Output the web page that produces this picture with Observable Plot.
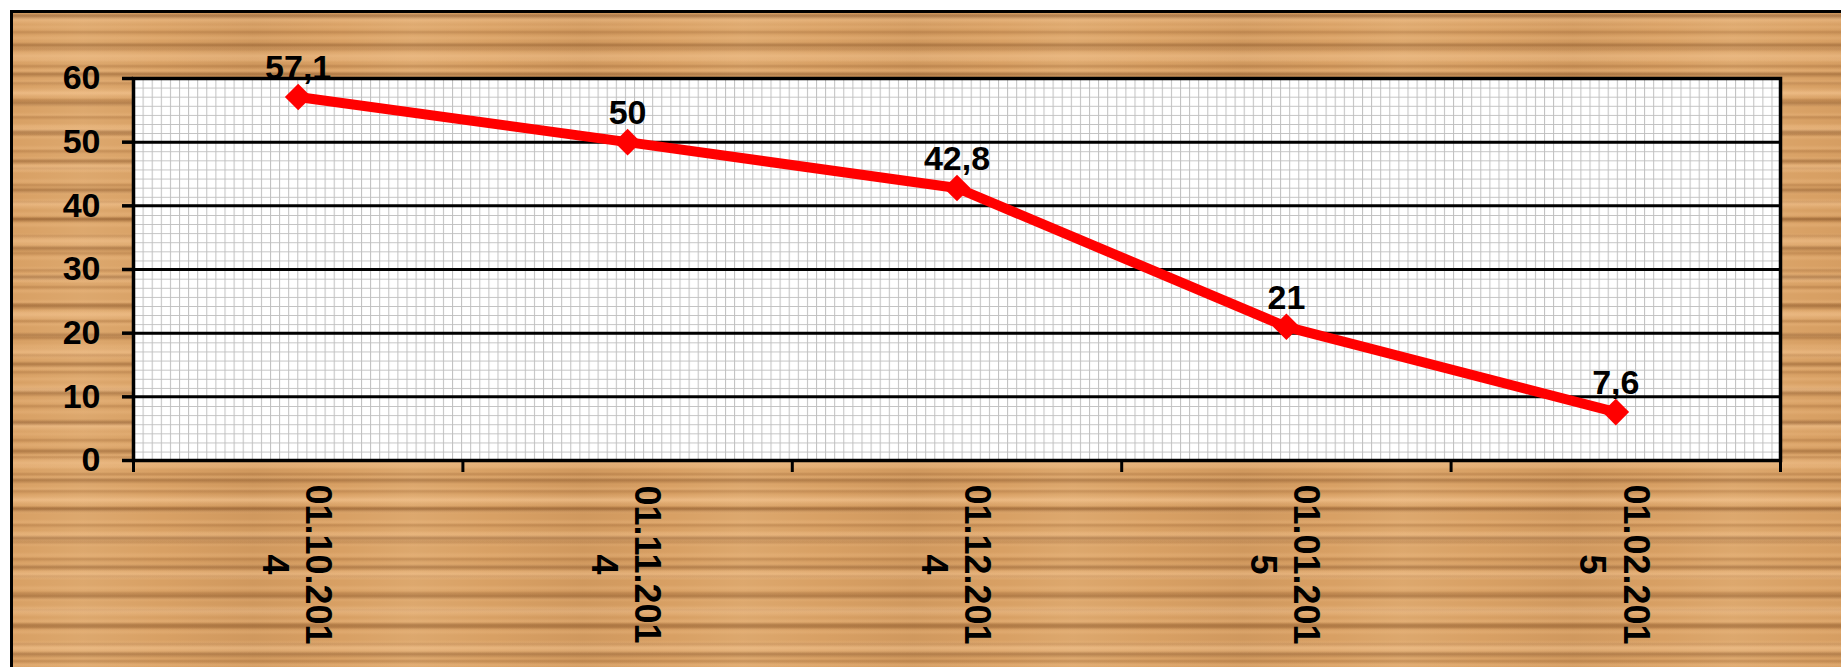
<!DOCTYPE html>
<html>
<head>
<meta charset="utf-8">
<script src="https://cdn.jsdelivr.net/npm/d3@7"></script>
<script src="https://cdn.jsdelivr.net/npm/@observablehq/plot@0.6"></script>
<style>
  html, body { margin: 0; padding: 0; background: #ffffff; overflow: hidden; }
  #wrap { position: relative; width: 1841px; height: 667px; }
  #wood {
    position: absolute; left: 10px; top: 10px; width: 1900px; height: 700px;
    border-left: 3px solid #000; border-top: 3px solid #000;
    background-color: #d8a064;
    background-image:
      repeating-linear-gradient(180deg, rgba(110,60,20,0) 0px, rgba(110,60,20,0.38) 3px, rgba(110,60,20,0) 7px, rgba(110,60,20,0) 29px),
      repeating-linear-gradient(180deg, rgba(250,205,155,0) 0px, rgba(250,205,155,0.45) 6px, rgba(250,205,155,0) 12px, rgba(250,205,155,0) 37px),
      repeating-linear-gradient(180deg, rgba(130,75,30,0) 0px, rgba(130,75,30,0.25) 2px, rgba(130,75,30,0) 5px, rgba(130,75,30,0) 17px),
      repeating-linear-gradient(180deg, rgba(240,190,135,0) 0px, rgba(240,190,135,0.30) 3px, rgba(240,190,135,0) 6px, rgba(240,190,135,0) 11px),
      repeating-linear-gradient(90deg, rgba(255,255,255,0) 0px, rgba(255,225,180,0.12) 70px, rgba(255,255,255,0) 150px, rgba(110,60,20,0.08) 240px, rgba(255,255,255,0) 330px);
  }
  #chart { position: absolute; left: 0; top: 0; }
</style>
</head>
<body>
<svg width="0" height="0" style="position:absolute">
  <defs>
    <pattern id="minorgrid" patternUnits="userSpaceOnUse" x="133" y="78" width="9.1" height="9.1">
      <rect width="9.1" height="9.1" fill="#ffffff"></rect>
      <path d="M0 0.5 H9.1 M0.5 0 V9.1" stroke="#c0c0c0" stroke-width="1" fill="none"></path>
    </pattern>
  </defs>
</svg>
<div id="wrap">
  <div id="wood"></div>
  <div id="chart"></div>
</div>
<script>
// Data
const dates = ["01.10.2014", "01.11.2014", "01.12.2014", "01.01.2015", "01.02.2015"];
const values = [57.1, 50, 42.8, 21, 7.6];
const yTicks = [0, 10, 20, 30, 40, 50, 60];

// Excel-style wrapped date labels ("01.10.201" / "4")
const wrapLabel = (s) => s.slice(0, 9) + "\n" + s.slice(9);
const valueLabel = (v) => String(v).replace(".", ",");

const data = dates.map((d, i) => ({pos: i + 0.5, date: d, value: values[i]}));
const boundaries = d3.range(dates.length + 1);

const font = "'Liberation Sans', Arial, sans-serif";

const chart = Plot.plot({
  width: 1841,
  height: 667,
  marginLeft: 133,
  marginRight: 61,
  marginTop: 78,
  marginBottom: 207,
  style: {background: "transparent", fontFamily: font, overflow: "visible"},
  x: {domain: [0, dates.length], axis: null},
  y: {domain: [0, 60], axis: null},
  marks: [
    Plot.frame({fill: "url(#minorgrid)", stroke: null}),
    Plot.gridY(yTicks, {stroke: "#000", strokeOpacity: 1, strokeWidth: 3}),
    Plot.frame({stroke: "#000", strokeWidth: 3.5}),
    Plot.axisY(yTicks, {
      tickSize: 11, tickPadding: 22, strokeWidth: 3.5, stroke: "#000",
      fontSize: 34, fontWeight: "bold", fill: "#000", label: null
    }),
    Plot.axisX(boundaries, {
      tickSize: 12, strokeWidth: 3, stroke: "#000", tickFormat: () => "", label: null
    }),
    Plot.text(data, {
      x: "pos", frameAnchor: "bottom", text: (d) => wrapLabel(d.date),
      rotate: 90, textAnchor: "middle", lineAnchor: "middle", lineHeight: 1.2,
      dy: 104, fontSize: 36, fontWeight: "bold", fill: "#000"
    }),
    Plot.line(data, {x: "pos", y: "value", stroke: "#ff0000", strokeWidth: 10}),
    Plot.dot(data, {x: "pos", y: "value", symbol: "diamond2", r: 12, fill: "#ff0000", stroke: null}),
    Plot.text(data, {
      x: "pos", y: "value", text: (d) => valueLabel(d.value),
      lineAnchor: "bottom", dy: -18, fontSize: 34, fontWeight: "bold", fill: "#000"
    })
  ]
});

document.getElementById("chart").appendChild(chart);
</script>
</body>
</html>
